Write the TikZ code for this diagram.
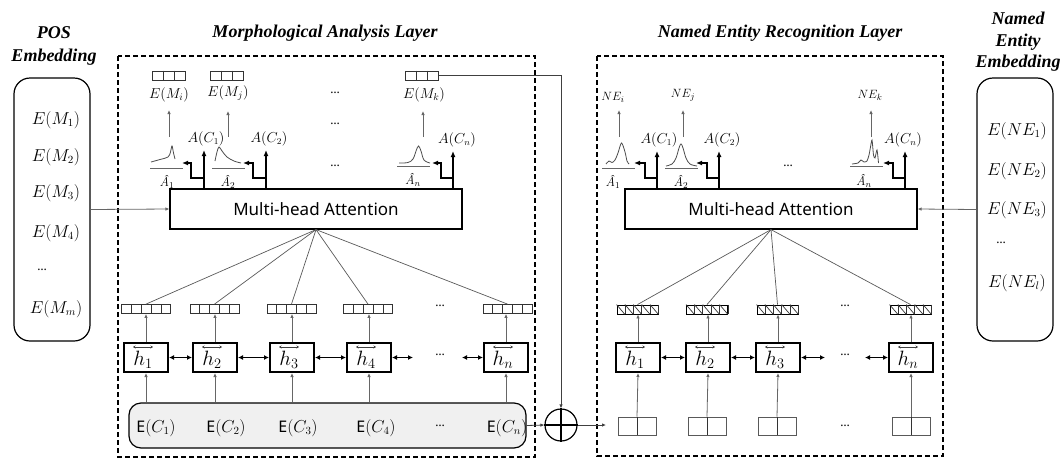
\documentclass[tikz,border=0pt]{standalone}
\usepackage{fontspec}
\setsansfont{Noto Sans}
\newfontfamily\titlefont{Liberation Serif}
\usepackage{amsmath}
\usetikzlibrary{arrows.meta,calc}
\newcommand\mycells[2]{%
  \pgfmathtruncatemacro\lastk{#2-1}%
  \foreach \k in {1,...,\lastk}{%
    \pgfmathsetmacro\ff{\k/#2}%
    \draw[cellline] ($(#1.north west)!\ff!(#1.north east)$) -- ($(#1.south west)!\ff!(#1.south east)$);}}
\newcommand\myhatch[2]{%
  \pgfmathtruncatemacro\lastk{#2-1}%
  \foreach \k in {0,...,\lastk}{%
    \pgfmathsetmacro\ff{\k/#2}\pgfmathsetmacro\gg{(\k+1)/#2}%
    \draw[cellline] ($(#1.north west)!\ff!(#1.north east)$) -- ($(#1.south west)!\gg!(#1.south east)$);
    \draw[cellline] ($(#1.north west)!\gg!(#1.north east)$) -- ($(#1.south west)!\gg!(#1.south east)$);}}
% h cell: name, x, y, subscript
\newcommand\hcell[4]{%
  \node[hbox] (#1) at (#2,#3) {};
  \node[htext] at ($(#1)+(-3,2.5)$) {$h_{#4}$};
  \draw[harr] ($(#1.north)+(-13,5)$) -- ++(20,0);}
\begin{document}
\begin{tikzpicture}[x=1pt,y=-1pt,
  dbox/.style={draw, dash pattern=on 5pt off 3pt, line width=1.2pt},
  emb/.style={draw, rounded corners=16pt, line width=1.2pt, minimum width=76pt, minimum height=263pt},
  mha/.style={draw, line width=1.2pt, minimum width=292pt, minimum height=40pt, font=\sffamily\fontsize{17}{19}\selectfont},
  hbox/.style={draw, line width=2pt, minimum width=44pt, minimum height=29pt, inner sep=0pt},
  htext/.style={font=\fontsize{20}{22}\selectfont, inner sep=0pt},
  harr/.style={draw=black!75, line width=0.6pt, {Stealth[length=2.5pt,width=3pt]}-{Stealth[length=2.5pt,width=3pt]}},
  garrow/.style={draw=black!60, line width=0.8pt, -{Latex[length=4pt,width=3.5pt]}},
  gline/.style={draw=black!60, line width=0.8pt},
  tarrow/.style={line width=1.8pt, -{Latex[length=6pt,width=5pt]}},
  bidir/.style={line width=1.4pt, {Latex[length=5pt,width=5pt]}-{Latex[length=5pt,width=5pt]}},
  fan/.style={draw=black!65, line width=0.7pt},
  cellline/.style={draw=black!80, line width=0.7pt},
  vecfive/.style={draw=black!80, line width=0.8pt, minimum width=49pt, minimum height=9pt, inner sep=0pt},
  vecthree/.style={draw=black!80, line width=0.8pt, minimum width=33pt, minimum height=9pt, inner sep=0pt},
  vechatch/.style={draw=black, line width=0.9pt, minimum width=41pt, minimum height=9pt, inner sep=0pt},
  inbox/.style={draw=black!65, line width=0.9pt, minimum width=38pt, minimum height=18pt, inner sep=0pt},
  curve/.style={draw=black!70, line width=0.8pt},
  title/.style={font=\titlefont\bfseries\itshape\fontsize{18}{23}\selectfont, align=center, inner sep=0pt},
  mlab/.style={font=\fontsize{16}{18}\selectfont, inner sep=1pt},
  slab/.style={font=\fontsize{14}{16}\selectfont, inner sep=1pt},
  xlab/.style={font=\fontsize{13.5}{15}\selectfont, inner sep=1pt},
  alab/.style={font=\fontsize{13}{15}\selectfont, inner sep=0pt},
  nlab/.style={font=\fontsize{12.5}{14}\selectfont, inner sep=1pt},
  dots/.style={font=\sffamily\fontsize{12}{14}\selectfont, inner sep=0pt}
]
\useasboundingbox (0,0) rectangle (1064,458);

% ---------- titles ----------
\node[title] (tpos) at (54,46) {POS\\Embedding};
\node[title] (tmal) at (325,33) {Morphological Analysis Layer};
\node[title] (tner) at (780,33) {Named Entity Recognition Layer};
\node[title, font=\titlefont\bfseries\itshape\fontsize{18}{21.5}\selectfont] (tne) at (1018,42) {Named\\Entity\\Embedding};

% ---------- dashed layer boxes ----------
\draw[dbox] (118,56) rectangle (535,457);
\draw[dbox] (597,56) rectangle (943,456);

% ---------- embedding boxes ----------
\node[emb] (pos) at (52,209.5) {};
\node[mlab] at (56,120) {$E(M_1)$};
\node[mlab] at (56,157) {$E(M_2)$};
\node[mlab] at (56,193) {$E(M_3)$};
\node[mlab] at (56,233) {$E(M_4)$};
\node[dots] at (42,270) {\ldots};
\node[mlab] at (56,309) {$E(M_m)$};

\node[emb] (nemb) at (1015,209.5) {};
\node[mlab] at (1017,131) {$E(NE_1)$};
\node[mlab] at (1017,171) {$E(NE_2)$};
\node[mlab] at (1017,210) {$E(NE_3)$};
\node[dots] at (1001,243) {\ldots};
\node[mlab] at (1017,283) {$E(NE_l)$};

% ---------- multi-head attention ----------
\node[mha] (lmha) at (316,209) {Multi-head Attention};
\node[mha] (rmha) at (771,209) {Multi-head Attention};
\draw[garrow] (pos.east) -- (lmha.west);
\draw[garrow] (nemb.west) -- (rmha.east);

% ---------- left: E(C) box ----------
\node[draw, line width=1.2pt, rounded corners=12pt, fill=black!6, minimum width=397pt, minimum height=45pt] (ecbox) at (327.5,425.5) {};
\node[mlab] at (156,428) {\textsf{E}$(C_1)$};
\node[mlab] at (226,428) {\textsf{E}$(C_2)$};
\node[mlab] at (298,428) {\textsf{E}$(C_3)$};
\node[mlab] at (376,428) {\textsf{E}$(C_4)$};
\node[dots] at (440,426) {\ldots};
\node[mlab] at (507,428) {\textsf{E}$(C_n)$};

% ---------- left: h boxes ----------
\hcell{lh1}{146}{357.5}{1}
\hcell{lh2}{215}{357.5}{2}
\hcell{lh3}{292}{357.5}{3}
\hcell{lh4}{369}{357.5}{4}
\hcell{lhn}{506}{357.5}{n}
\draw[bidir] (lh1) -- (lh2);
\draw[bidir] (lh2) -- (lh3);
\draw[bidir] (lh3) -- (lh4);
\coordinate (lha) at (413,357.5);
\coordinate (lhb) at (462,357.5);
\draw[bidir] (lh4) -- (lha);
\draw[bidir] (lhb) -- (lhn);
\node[dots] at (440,355) {\ldots};

% ---------- left: vectors ----------
\foreach \n/\x in {lv1/146,lv2/214.5,lv3/291.5,lv4/368,lvn/507.5}{
  \node[vecfive] (\n) at (\x,309) {};
  \mycells{\n}{5}
}
\node[dots] at (440,306) {\ldots};
\foreach \i in {1,2,3,4,n}{
  \draw[garrow] (lh\i.north) -- (lh\i.north |- lv\i.south);
  \draw[garrow] (lh\i.south |- ecbox.north) -- (lh\i.south);
  \draw[fan] (lmha.south) -- (lv\i.north);
}

% ---------- left: top part ----------
\node[vecthree] (lemi) at (169,75.5) {}; \mycells{lemi}{3}
\node[vecthree] (lemj) at (226.5,75.5) {}; \mycells{lemj}{3}
\node[vecthree] (lemk) at (422,75.5) {}; \mycells{lemk}{3}
\node[slab] (llmi) at (169,95) {$E(M_i)$};
\node[slab] (llmj) at (228,93) {$E(M_j)$};
\node[slab] (llmk) at (424,95) {$E(M_k)$};
\node[dots] at (335,93) {\ldots};
\node[dots] at (335,124) {\ldots};
\node[dots] at (335,166) {\ldots};
\coordinate (lc1) at (169,137);
\coordinate (lc2) at (228,137);
\coordinate (lcn) at (423,137);
\draw[garrow] (lc1) -- (lc1 |- 0,110);
\draw[garrow] (lc2) -- (lc2 |- 0,111);
\draw[garrow] (lcn) -- (lcn |- 0,111);

% attention curves (left)
\draw[gline] (150,168) -- (183,168);
\draw[curve] plot[smooth, tension=0.6] coordinates {(151,162) (160,159.5) (168,157) (170.5,152) (172,146) (173.5,153) (175,159)};
\draw[gline] (212,168) -- (245,168);
\draw[curve] plot[smooth, tension=0.6] coordinates {(215,161) (217,152) (219,147) (222,151) (227,157) (234,161) (241,163)};
\draw[gline] (397,166) -- (430,166);
\draw[curve] plot[smooth, tension=0.6] coordinates {(399,163) (408,162.5) (413,159) (416,151) (418.5,146) (421,151) (424,160) (430,163)};
\node[alab] at (167,182) {\itshape Â$_1$};
\node[alab] at (228,182) {\itshape Â$_2$};
\node[alab] at (413,180) {\itshape Â$_n$};

% A(C) arrows (left)
\node[xlab] (lac1) at (206,139) {$A(C_1)$};
\node[xlab] (lac2) at (269,139) {$A(C_2)$};
\node[xlab] (lacn) at (457,140) {$A(C_n)$};
\foreach \mx/\bx/\tx/\ly in {204/191/182/150, 266/253/243/150, 453/441/432/151}{
  \draw[tarrow] (\mx,189) -- (\mx,\ly);
  \draw[tarrow] (\mx,178) -- (\bx,178) -- (\bx,163) -- (\tx,163);
}

% ---------- fusion ----------
\node[circle, draw, line width=1.2pt, minimum size=32pt, inner sep=0pt] (plus) at (561,425) {};
\draw[line width=1.2pt] (plus.north) -- (plus.south) (plus.west) -- (plus.east);
\draw[garrow, draw=black!75] (lemk.east) -| (plus.north);
\draw[garrow, draw=black!75] (ecbox.east) -- (plus.west);
\coordinate (rin) at (606,425);
\draw[garrow, draw=black!75] (plus.east) -- (rin);

% ---------- right: inputs ----------
\foreach \n/\x in {rb1/637,rb2/707,rb3/777,rbn/911}{
  \node[inbox] (\n) at (\x,426) {};
  \mycells{\n}{2}
}
\node[dots] at (845,426) {\ldots};

% ---------- right: h boxes ----------
\hcell{rh1}{638}{357.5}{1}
\hcell{rh2}{708}{357.5}{2}
\hcell{rh3}{778}{357.5}{3}
\hcell{rhn}{911}{357.5}{n}
\draw[bidir] (rh1) -- (rh2);
\draw[bidir] (rh2) -- (rh3);
\coordinate (rha) at (825,357.5);
\coordinate (rhb) at (865,357.5);
\draw[bidir] (rh3) -- (rha);
\draw[bidir] (rhb) -- (rhn);
\node[dots] at (845,355) {\ldots};

% ---------- right: hatched vectors ----------
\foreach \n/\x in {rv1/637.5,rv2/707,rv3/777.5,rvn/910.5}{
  \node[vechatch] (\n) at (\x,309.5) {};
  \myhatch{\n}{5}
}
\node[dots] at (845,306) {\ldots};
\foreach \i in {1,2,3,n}{
  \draw[garrow] (rh\i.north) -- (rh\i.north |- rv\i.south);
  \draw[garrow] (rb\i.north) -- (rh\i.south);
  \draw[fan] (rmha.south) -- (rv\i.north);
}

% ---------- right: top part ----------
\node[nlab] (rnei) at (613,97) {$NE_i$};
\node[nlab] (rnej) at (683,95) {$NE_j$};
\node[nlab] (rnek) at (870,95) {$NE_k$};
\coordinate (rc1) at (619,137);
\coordinate (rc2) at (683,137);
\coordinate (rcn) at (871,137);
\draw[garrow] (rc1) -- (rc1 |- 0,110);
\draw[garrow] (rc2) -- (rc2 |- 0,110);
\draw[garrow] (rcn) -- (rcn |- 0,110);

\draw[gline] (602,168) -- (635,168);
\draw[curve] plot[smooth, tension=0.5] coordinates {(606,164) (609,161) (612,162.5) (615,160) (618,153) (621.5,143) (625,152) (627,161) (629,164)};
\draw[gline] (665,168) -- (698,168);
\draw[curve] plot[smooth, tension=0.6] coordinates {(666,166) (672,164) (676,158) (679,148) (681,144) (683,148) (686,158) (690,164) (697,166)};
\draw[gline] (850,166) -- (883,166);
\draw[curve] plot[smooth, tension=0.4] coordinates {(852,164) (858,163) (861,160) (864,162) (867,161) (869,155) (870.5,147) (872,140) (873.5,155) (875,158) (877,150) (878.5,163)};
\node[alab] at (613,182) {\itshape Â$_1$};
\node[alab] at (681,182) {\itshape Â$_2$};
\node[alab] at (864,181) {\itshape Â$_n$};
\node[dots] at (788,166) {\ldots};

\node[xlab] (rac1) at (659,140) {$A(C_1)$};
\node[xlab] (rac2) at (722,140) {$A(C_2)$};
\node[xlab] (racn) at (903,140) {$A(C_n)$};
\foreach \mx/\bx/\tx in {657/645/634, 719/707/696, 905/893/883}{
  \draw[tarrow] (\mx,189) -- (\mx,151);
  \draw[tarrow] (\mx,178) -- (\bx,178) -- (\bx,163) -- (\tx,163);
}
\end{tikzpicture}
\end{document}
